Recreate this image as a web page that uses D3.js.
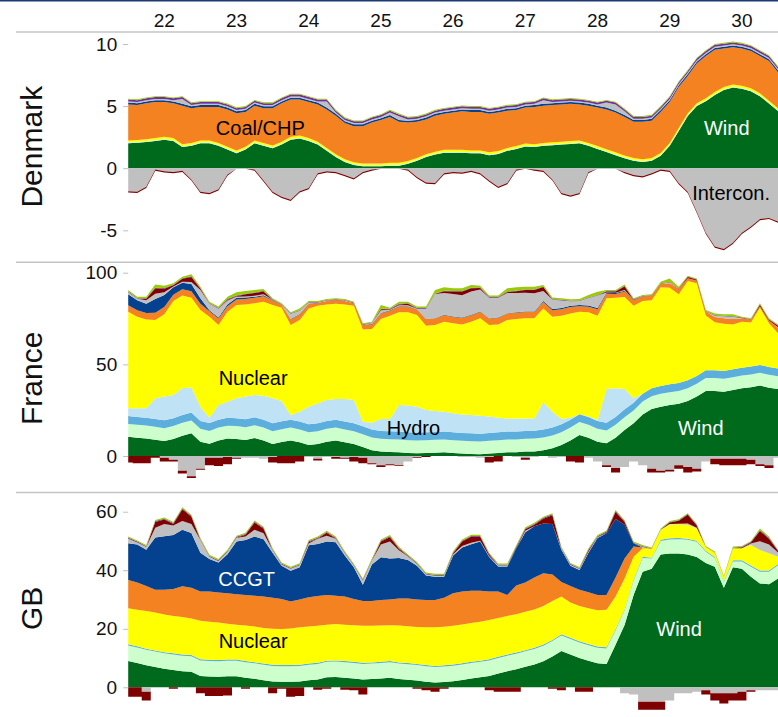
<!DOCTYPE html>
<html>
<head>
<meta charset="utf-8">
<script src="https://cdn.jsdelivr.net/npm/d3@7"></script>
<style>
  body { margin: 0; background: #fff; }
  svg { display: block; font-family: "Liberation Sans", Arial, sans-serif; }
</style>
</head>
<body>
<svg id="chart" width="778" height="717"></svg>
<script>
// 3-hourly values (GW), 22nd 00:00 to 31st 00:00, 73 points per series
const startDay = 22;
const stepHours = 3;
const days = [22, 23, 24, 25, 26, 27, 28, 29, 30];

// ---- Denmark ----
const dkWind = [2.0,2.05,2.1,2.2,2.3,2.2,1.7,1.8,2.0,2.0, 1.8,1.5,1.2,1.5,2.0,1.8,1.6,1.9,2.3,2.4,
  2.2,1.9,1.4,0.9,0.5,0.25,0.15,0.15,0.15,0.2, 0.2,0.35,0.6,0.9,1.1,1.25,1.25,1.25,1.2,1.2,
  1.05,1.15,1.4,1.55,1.75,1.7,1.8,1.85,1.9,1.95, 2.0,1.8,1.55,1.3,1.05,0.8,0.6,0.5,0.6,1.0,
  1.8,3.0,4.2,5.0,5.4,5.9,6.3,6.5,6.4,6.2, 5.8,5.2,4.6];
const dkSolar = [0.08,0.08,0.08,0.08,0.08,0.08,0.08,0.08,0.08,0.08, 0.08,0.08,0.08,0.08,0.08,0.08,0.08,0.08,0.08,0.08,
  0.08,0.08,0.08,0.08,0.08,0.08,0.08,0.08,0.08,0.08, 0.08,0.08,0.08,0.08,0.08,0.08,0.08,0.08,0.08,0.08,
  0.08,0.08,0.08,0.08,0.08,0.08,0.08,0.08,0.08,0.08, 0.08,0.08,0.08,0.08,0.08,0.08,0.08,0.08,0.08,0.08,
  0.08,0.08,0.08,0.08,0.08,0.08,0.08,0.08,0.08,0.08, 0.08,0.08,0.08];
const dkWaste = [0.15,0.15,0.15,0.15,0.15,0.15,0.15,0.15,0.15,0.15, 0.15,0.15,0.15,0.15,0.15,0.15,0.15,0.15,0.15,0.15,
  0.15,0.15,0.15,0.15,0.15,0.15,0.15,0.15,0.15,0.15, 0.15,0.15,0.15,0.15,0.15,0.15,0.15,0.15,0.15,0.15,
  0.15,0.15,0.15,0.15,0.15,0.15,0.15,0.15,0.15,0.15, 0.15,0.15,0.15,0.15,0.15,0.15,0.15,0.15,0.15,0.15,
  0.15,0.15,0.15,0.15,0.15,0.15,0.15,0.15,0.15,0.15, 0.15,0.15,0.15];
const dkCoal = [2.9,2.8,2.9,2.9,2.8,2.8,3.1,2.8,2.7,2.7, 2.9,3.0,3.0,2.8,2.8,2.8,3.0,3.1,3.0,2.9,
  2.9,3.0,3.1,3.1,2.9,2.9,3.0,3.3,3.5,3.7, 3.3,3.1,2.9,2.8,2.9,2.9,3.0,3.1,3.1,3.1,
  3.1,3.1,3.0,2.9,2.9,3.0,3.0,3.0,3.0,3.0, 2.9,3.0,3.1,3.2,3.2,3.1,2.9,3.0,3.0,3.3,
  3.3,3.3,3.0,3.2,3.4,3.4,3.1,3.0,3.0,3.0, 3.0,3.2,2.9];
const dkCcgt = [0.15,0.15,0.15,0.15,0.15,0.15,0.15,0.15,0.15,0.15, 0.15,0.15,0.15,0.15,0.15,0.15,0.15,0.15,0.15,0.15,
  0.15,0.15,0.15,0.15,0.15,0.15,0.15,0.15,0.15,0.15, 0.15,0.15,0.15,0.15,0.15,0.15,0.15,0.15,0.15,0.15,
  0.15,0.15,0.15,0.15,0.15,0.15,0.15,0.15,0.15,0.15, 0.15,0.15,0.15,0.15,0.15,0.15,0.15,0.15,0.15,0.15,
  0.15,0.15,0.15,0.15,0.15,0.15,0.15,0.15,0.15,0.15, 0.15,0.15,0.15];
const dkOther = [0.1,0.1,0.1,0.1,0.1,0.1,0.4,0.1,0.1,0.1, 0.1,0.1,0.1,0.1,0.1,0.1,0.1,0.1,0.1,0.1,
  0.1,0.1,0.5,0.1,0.1,0.1,0.1,0.1,0.1,0.2, 0.3,0.1,0.1,0.1,0.1,0.1,0.1,0.1,0.1,0.1,
  0.1,0.1,0.1,0.1,0.1,0.1,0.3,0.1,0.1,0.1, 0.1,0.1,0.1,0.4,0.5,0.3,0.1,0.1,0.1,0.1,
  0.1,0.1,0.1,0.1,0.1,0.1,0.1,0.1,0.1,0.1, 0.1,0.1,0.1];
const dkOil = [0.15,0.15,0.15,0.15,0.15,0.15,0.15,0.15,0.15,0.15, 0.15,0.15,0.15,0.15,0.15,0.15,0.15,0.15,0.15,0.15,
  0.15,0.15,0.15,0.15,0.15,0.15,0.15,0.15,0.15,0.15, 0.15,0.15,0.15,0.15,0.15,0.15,0.15,0.15,0.15,0.15,
  0.15,0.15,0.15,0.15,0.15,0.15,0.15,0.15,0.15,0.15, 0.15,0.15,0.15,0.15,0.15,0.15,0.15,0.15,0.15,0.15,
  0.15,0.15,0.15,0.15,0.15,0.15,0.15,0.15,0.15,0.15, 0.15,0.15,0.15];
const dkBio = [0.07,0.07,0.07,0.07,0.07,0.07,0.07,0.07,0.07,0.07, 0.07,0.07,0.07,0.07,0.07,0.07,0.07,0.07,0.07,0.07,
  0.07,0.07,0.07,0.07,0.07,0.07,0.07,0.07,0.07,0.07, 0.07,0.07,0.07,0.07,0.07,0.07,0.07,0.07,0.07,0.07,
  0.07,0.07,0.07,0.07,0.07,0.07,0.07,0.07,0.07,0.07, 0.07,0.07,0.07,0.07,0.07,0.07,0.07,0.07,0.07,0.07,
  0.07,0.07,0.07,0.07,0.07,0.07,0.07,0.07,0.07,0.07, 0.07,0.07,0.07];
const dkIntercon = [-1.85,-1.9,-1.5,-0.1,-0.25,-0.3,-0.2,-0.9,-1.9,-2.0, -1.7,-0.5,-0.05,-0.05,-0.1,-1.0,-1.9,-2.3,-2.55,-1.85,
  -1.6,-0.4,-0.25,-0.3,-0.55,-0.8,-0.3,-0.1,-0.05,-0.05, -0.05,-0.1,-0.7,-1.15,-1.2,-0.4,-0.3,-0.35,-0.2,-0.4,
  -1.0,-1.5,-1.2,-0.1,-0.05,-0.1,-0.2,-0.9,-2.0,-2.2, -2.0,-0.3,-0.05,-0.05,-0.05,-0.3,-0.55,-0.65,-0.4,-0.1,
  -0.2,-1.2,-1.9,-3.5,-5.2,-6.3,-6.5,-6.0,-5.2,-4.7, -4.1,-4.0,-4.3];
const dkPumpNeg = [-0.1,-0.1,-0.1,-0.1,-0.1,-0.1,-0.1,-0.1,-0.1,-0.1, -0.1,-0.1,0,0,-0.1,-0.1,-0.1,-0.1,-0.1,-0.1,
  -0.1,-0.1,-0.1,-0.1,-0.1,-0.1,-0.1,-0.1,0,0, 0,-0.1,-0.1,-0.1,-0.1,-0.1,-0.1,-0.1,-0.1,-0.1,
  -0.1,-0.1,-0.1,-0.1,0,-0.1,-0.1,-0.1,-0.1,-0.1, -0.1,-0.1,0,0,0,-0.1,-0.1,-0.1,-0.1,-0.1,
  -0.1,-0.1,-0.1,-0.1,-0.1,-0.1,-0.1,-0.1,-0.1,-0.1, -0.1,-0.1,-0.1];

// ---- France ----
const frWind = [10.5,10.0,9.6,8.9,8.2,9.3,11.1,12.4,7.8,6.7, 8.5,9.5,9.3,8.7,9.8,8.5,6.5,7.6,8.5,7.5,
  6.0,6.5,7.8,8.5,7.5,6.5,4.9,3.1,2.4,2.2, 2.0,1.6,1.5,1.6,1.8,2.0,1.6,1.3,1.1,0.9,
  1.3,1.6,2.0,2.0,2.4,2.5,3.1,4.2,6.0,8.5, 11.5,10.0,7.8,6.9,10.0,14.2,17.8,22.7,25.6,26.9,
  27.8,28.5,30.0,32.4,35.5,35.5,35.1,36.0,36.9,37.5, 38.4,37.3,36.5];
const frSolar = [7.0,7.0,7.0,7.0,7.0,7.0,7.0,7.0,7.0,7.0, 7.0,7.0,7.0,7.0,7.0,7.0,7.0,7.0,7.0,7.0,
  7.0,7.0,7.0,7.0,7.0,7.0,7.0,7.0,7.0,7.0, 7.0,7.0,7.0,7.0,7.0,7.0,7.0,7.0,7.0,7.0,
  7.0,7.0,7.0,7.0,7.0,7.0,7.0,7.0,7.0,7.0, 7.0,7.0,7.0,7.0,7.0,7.0,7.0,7.0,7.0,7.0,
  7.0,7.0,7.0,7.0,7.0,7.0,7.0,7.0,7.0,7.0, 7.0,7.0,7.0];
const frHydro = [4.3,4.3,4.3,4.3,4.3,4.3,4.3,4.3,4.3,4.3, 4.3,4.3,4.3,4.3,4.3,4.3,4.3,4.3,4.3,4.3,
  4.3,4.3,4.3,4.3,4.3,4.3,4.3,4.3,4.3,4.3, 4.3,4.3,4.3,4.3,4.3,4.3,4.3,4.3,4.3,4.3,
  4.3,4.3,4.3,4.3,4.3,4.3,4.3,4.3,4.3,4.3, 4.3,4.3,4.3,4.3,4.3,4.3,4.3,4.3,4.3,4.3,
  4.3,4.3,4.3,4.3,4.3,4.3,4.3,4.3,4.3,4.3, 4.3,4.3,4.3];
const frHydroRes = [4.2,4.7,5.1,11.3,12.9,12.7,14.5,13.8,7.8,2.9, 8.0,8.8,10.9,12.4,12.2,13.1,13.7,11.1,2.6,5.4,
  9.6,10.9,11.4,11.3,12.3,12.7,2.5,3.8,6.5,6.7, 14.5,14.6,14.1,12.2,11.4,10.9,10.4,10.1,10.0,9.8,
  8.9,8.0,7.2,7.2,6.8,6.7,14.9,8.7,2.9,1.0, 0,0.2,0.5,18.3,15.6,11.0,2.4,0,0,0,
  0,0,0,0,0,0,0,0,0,0, 0,0,0];
const frNuclear = [52.7,50.0,48.5,42.7,44.9,51.2,50.6,48.9,52.7,55.1, 43.7,49.1,50.9,50.3,50.0,51.3,50.9,50.9,49.1,50.0,
  53.6,53.3,52.2,52.0,51.6,51.5,50.3,51.1,54.5,56.3, 50.6,50.9,50.0,46.0,47.0,49.1,49.1,49.1,50.9,53.1,
  50.0,50.9,53.7,54.2,54.6,54.6,51.2,51.8,56.3,57.0, 55.9,56.9,56.9,49.5,49.5,50.2,50.5,50.5,48.1,53.8,
  52.7,48.4,54.2,50.5,29.8,26.1,25.8,24.5,25.1,24.0, 31.2,23.8,19.1];
const frCoal = [3.5,3.5,3.5,4.0,4.0,3.5,3.5,3.5,3.5,3.0, 3.5,3.0,3.0,3.0,3.0,3.0,2.5,1.6,3.0,3.0,
  2.5,1.5,1.8,1.7,1.8,1.3,2.5,2.5,3.0,2.8, 3.0,3.0,3.0,3.5,3.5,3.5,3.5,3.5,3.5,3.5,
  3.5,3.5,3.5,3.5,3.5,3.5,3.5,3.5,3.5,3.5, 3.0,3.0,3.5,2.5,2.0,3.0,3.0,2.5,2.4,2.0,
  2.5,3.0,1.5,1.5,2.2,3.0,3.0,3.0,1.9,1.5, 0.8,1.5,3.0];
const frCcgt = [6.0,5.5,5.0,7.5,6.5,4.0,3.5,4.0,3.0,0.5, 0.5,1.0,1.0,0.8,0.6,0.5,0.2,0,0.3,0.3,
  0.2,0.1,0.1,0.1,0.1,0.1,0.1,0.2,0.3,0.2, 0.3,0.3,0.2,0.2,0.2,0.2,0.2,0.2,0.2,0.2,
  0.2,0.2,0.2,0.2,0.2,0.2,0.5,0.7,0.7,0.7, 0.7,0.7,0.7,0.5,0.5,0.5,0.2,0,0,0,
  0,0,0,0,0,0,0,0,0,0, 0,0,0];
const frOther = [1.2,0.8,2.0,2.8,1.5,0.5,0.5,1.0,4.5,3.6, 4.9,2.1,0.5,0.5,0.5,0.5,0.1,0,2.8,1.7,
  0.5,0.1,0.2,0.1,0.2,0,0,0.5,1.5,0.3, 0.5,0.6,0.3,5.6,13.2,11.9,12.3,12.2,12.8,12.0,
  11.2,10.9,11.0,10.5,10.3,10.0,5.5,5.2,4.2,2.4, 2.1,4.1,6.8,0.2,0.1,0.3,0,0,0,0,
  0.3,0,0,0,0,0.6,1.0,1.2,0,0, 0,0,0.3];
const frPumped = [0,0,0.8,3.0,2.0,0.6,1.7,2.8,0.7,0, 0,0.5,0.3,1.2,1.5,1.6,0,0,0,0,
  0,0,0,0.2,0,0,0,0,0.6,0.3, 0.5,0.8,0,0,0,1.0,1.3,2.0,1.7,0.8,
  0,0,0.5,1.0,1.5,1.8,2.2,0,0,0, 0,0,0,0.5,0.7,2.0,0,0,0,0,
  0,0,0.6,0.4,0,0,0,0,0,0, 0.8,0.4,0.8];
const frOil = [0.3,0.3,0.3,0.3,0.3,0.3,0.3,0.3,0.3,0.3, 0.3,0.3,0.3,0.3,0.3,0.3,0.3,0.3,0.3,0.3,
  0.3,0.3,0.3,0.3,0.3,0.3,0.3,0.3,0.3,0.3, 0.3,0.3,0.3,0.3,0.3,0.3,0.3,0.3,0.3,0.3,
  0.3,0.3,0.3,0.3,0.3,0.3,0.3,0.3,0.3,0.3, 0.3,0.3,0.3,0.3,0.3,0.3,0.3,0.3,0.3,0.3,
  0.3,0.3,0.3,0.3,0.3,0.3,0.3,0.3,0.3,0.3, 0.3,0.3,0.3];
const frBio = [0.8,0.8,0.8,1.8,1.3,0.8,0.8,1.1,0.8,0.8, 0.8,1.3,1.8,1.5,1.3,1.0,0.5,0.5,0.5,1.0,
  0.5,0.5,0.5,0.5,0.5,0.5,0.5,0.5,2.0,0.5, 1.2,0.8,0.8,0.8,1.8,1.8,1.5,1.5,1.5,1.0,
  0.8,0.8,1.8,1.8,1.5,1.5,0.8,0.8,0.8,0.8, 0.8,1.3,1.8,0.5,0.5,0.8,0.5,0.5,0.5,0.8,
  2.0,0.9,0.5,0.5,0.5,1.0,0.8,1.0,0.5,0.5, 0.5,0.5,0.5];
const frIntercon = [0,0,0,0,-1.0,-2.0,-8.0,-11.0,-7.0,-1.0, -1.0,-0.5,-1.0,-1.0,-1.0,-1.5,-0.5,0,0,0,
  -0.5,-1.5,-0.5,-0.5,-1.0,-0.5,-1.0,-4.0,-5.0,-4.5, -5.0,-3.0,-0.5,0,0,0,0,-0.5,-0.5,-1.0,
  -0.5,0,0,-0.5,-1.0,-0.5,0,-1.0,-0.5,0, 0,-1.0,-3.0,-5.0,-6.5,-6.0,-3.0,-5.0,-7.0,-8.0,
  -7.5,-5.0,-6.0,-7.0,-3.0,-1.5,-1.5,-1.5,-1.5,-2.0, -4.5,-5.0,-1.0];
const frPumpNeg = [-3.5,-4.0,-4.0,-1.0,-2.0,-1.0,-1.5,-1.0,-0.5,-4.0, -4.5,-4.0,-0.5,0,0,0,-3.0,-4.0,-4.0,-3.0,
  0,-1.0,0,-1.0,-0.5,-2.5,-3.0,-0.5,-1.0,-0.5, -0.5,0,-0.5,-0.5,0,0,0,0,0,0,
  -3.0,-3.0,0,0,-1.0,0,0,0,0,-3.0, -3.5,0,0,-1.0,-2.5,0,0,0,-2.0,-1.0,
  -1.0,-2.0,-3.0,-1.5,0,-3.0,-3.5,-3.5,-3.5,-2.5, -1.0,-1.5,0];

// ---- GB ----
const gbWind = [9.0,8.3,7.5,6.9,6.3,5.9,5.5,5.3,3.9,3.7, 3.6,3.8,3.8,3.3,2.9,2.4,2.0,1.9,1.9,2.0,
  2.4,2.7,3.4,3.5,3.3,3.0,2.7,2.8,3.0,3.3, 2.8,2.6,2.3,1.9,1.6,1.8,2.1,2.5,3.0,3.4,
  3.9,4.7,5.5,6.2,7.0,7.8,8.9,10.5,12.4,11.2, 10.0,9.1,8.2,8.0,14.5,21.3,31.5,39.5,40.5,45.4,
  45.7,45.7,45.4,44.5,42.5,41.2,34.0,41.0,40.5,37.8, 35.5,35.2,37.2];
const gbSolar = [5.3,5.3,5.3,5.3,5.3,5.3,5.3,5.3,5.3,5.3, 5.3,5.3,5.3,5.3,5.3,5.3,5.3,5.3,5.3,5.3,
  5.3,5.3,5.3,5.3,5.3,5.3,5.3,5.3,5.3,5.3, 5.3,5.3,5.3,5.3,5.3,5.3,5.3,5.3,5.3,5.3,
  5.3,5.3,5.3,5.3,5.3,5.3,5.3,5.3,5.3,5.3, 5.3,5.3,5.3,5.3,5.0,5.0,5.0,4.7,3.5,4.6,
  4.8,4.9,5.0,5.2,3.8,3.0,2.0,2.0,2.5,3.4, 4.0,4.3,4.5];
const gbHydro = [0.4,0.4,0.4,0.4,0.4,0.4,0.4,0.4,0.4,0.4, 0.4,0.4,0.4,0.4,0.4,0.4,0.4,0.4,0.4,0.4,
  0.4,0.4,0.4,0.4,0.4,0.4,0.4,0.4,0.4,0.4, 0.4,0.4,0.4,0.4,0.4,0.4,0.4,0.4,0.4,0.4,
  0.4,0.4,0.4,0.4,0.4,0.4,0.4,0.4,0.4,0.4, 0.4,0.4,0.4,0.4,0.4,0.4,0.4,0.4,0.3,0.4,
  0.4,0.4,0.4,0.4,0.4,0.3,0.3,0.4,0.4,0.4, 0.4,0.4,0.4];
const gbNuclear = [12.3,12.5,12.9,13.0,12.9,12.8,12.8,12.5,13.1,13.0, 12.8,12.2,11.9,12.1,12.2,12.2,12.3,12.3,12.5,12.8,
  12.7,12.6,12.3,12.4,12.4,12.5,12.6,12.5,12.4,12.2, 12.6,12.6,12.6,12.9,13.2,13.2,13.2,13.3,13.3,13.3,
  13.4,13.3,13.2,13.1,13.1,13.1,13.2,13.3,12.9,12.1, 12.1,12.2,12.4,12.8,11.1,10.5,7.7,2.9,3.0,3.4,
  4.7,4.7,4.7,4.2,1.2,1.5,1.5,4.1,4.1,7.0, 7.0,5.9,2.5];
const gbCoal = [9.7,9.3,8.5,7.7,8.4,9.2,10.5,10.5,10.0,10.3, 10.3,10.4,10.4,10.4,10.5,10.7,10.6,10.3,9.2,9.5,
  10.0,10.2,10.1,9.7,9.6,9.0,8.5,8.5,8.7,8.8, 9.2,9.4,9.4,9.3,9.3,9.9,11.1,11.2,11.0,10.6,
  9.7,9.0,7.1,9.8,10.0,10.9,11.2,9.0,5.0,5.6, 5.5,5.5,5.2,5.0,6.5,6.8,3.5,0.3,0,0,
  0,0,0,0,0,0,0,0,0,0, 0,0,0];
const gbCcgt = [12.5,13.0,12.4,17.9,18.3,18.4,19.3,18.7,13.3,11.1, 10.2,13.4,18.0,18.8,20.2,19.6,15.4,11.3,10.5,11.0,
  17.7,17.8,18.3,18.3,14.0,10.8,5.5,12.5,14.6,14.0, 13.9,13.2,11.5,8.4,8.0,7.2,12.9,15.1,15.9,16.8,
  11.8,8.6,9.8,12.7,17.2,17.5,17.0,17.3,11.0,6.9, 6.8,13.5,19.5,21.1,20.0,11.5,1.1,0,0,0,
  0,0,0,0,0,0,0,0,0,0, 0,0,0];
const gbOther = [1.6,0.7,0.9,3.3,4.2,3.3,3.0,3.1,4.3,0.8, 0.5,0.8,1.3,1.2,2.3,2.0,0.8,0.4,0.7,0.7,
  0.6,1.8,2.0,1.2,0.8,0.5,1.5,1.3,4.4,5.8, 2.6,1.2,0.6,0.3,0.3,0.3,0.5,0.5,0.5,0.3,
  0.3,0.3,0.3,0,0.5,0,0,0,0.3,0.3, 0.3,0.3,0.3,0,0,0,0,0.1,0,0,
  0.2,0.2,0.5,0.2,0,0,0,0,0,0.5, 3.0,3.0,1.5];
const gbPumped = [0,0,0,2.0,1.5,0.5,4.0,2.5,0,0, 0,0,0,0.6,2.5,1.6,0,0,0,0,
  0.5,0,1.0,0,0,0,0,0,1.0,1.5, 0.5,0,0,0,0,0,0.3,1.5,2.0,1.3,
  0.5,0,0,0.3,0.5,0.5,1.6,3.0,0,0, 0,0.5,0,0.3,2.4,1.0,0,0,0,0,
  0.5,1.0,3.0,0.8,0,0,0,0,0.3,0.4, 3.5,2.0,0.5];
const gbOil = [0.3,0.3,0.3,0.3,0.3,0.3,0.3,0.3,0.3,0.3, 0.3,0.3,0.3,0.3,0.3,0.3,0.3,0.3,0.3,0.3,
  0.3,0.3,0.3,0.3,0.3,0.3,0.3,0.3,0.3,0.3, 0.3,0.3,0.3,0.3,0.3,0.3,0.3,0.3,0.3,0.3,
  0.3,0.3,0.3,0.3,0.3,0.3,0.3,0.3,0.3,0.3, 0.3,0.3,0.3,0.3,0.3,0.3,0.2,0.3,0.2,0.2,
  0.2,0.2,0.2,0.2,0.1,0.1,0.1,0.2,0.2,0.2, 0.3,0.3,0.2];
const gbBio = [0.4,0.4,0.4,0.4,0.4,0.4,0.4,0.4,0.4,0.4, 0.4,0.4,0.4,0.4,0.4,0.4,0.4,0.4,0.4,0.4,
  0.4,0.4,0.4,0.4,0.4,0.4,0.4,0.4,0.4,0.4, 0.4,0.4,0.4,0.4,0.4,0.4,0.4,0.4,0.4,0.4,
  0.4,0.4,0.4,0.4,0.4,0.4,0.4,0.4,0.4,0.4, 0.4,0.4,0.4,0.4,0.4,0.4,0.4,0.4,0.3,0.3,
  0.3,0.3,0.3,0.3,0.3,0.3,0.2,0.4,0.3,0.3, 0.6,0.4,0.1];
const gbIntercon = [0,0,-1.5,0,0,0,0,0,0,0, 0,0,0,0,0,0,0,0,0,0,
  0,0,0,0,0,0,0,0,0,0, 0,0,0,0,0,0,0,0,0,0,
  0,0,0,0,0,0,0,0,0,0, 0,0,0,0,0,-2.0,-2.5,-4.9,-4.9,-4.9,
  -4.5,-2.0,-2.0,-1.5,-1.0,-2.0,-2.0,-2.0,-1.5,-1.0, -1.0,-1.0,-1.0];
const gbPumpNeg = [-3.2,-3.2,-3.0,0,0,-0.5,0,0,-2.0,-3.0, -3.0,-2.8,0,-0.5,0,0,-2.0,-0.5,-3.2,-3.0,
  0,-0.8,-0.5,0,-0.8,-1.0,-2.5,0,0,0, 0,0,-0.5,-1.0,-1.5,-0.5,0,0,0,0,
  -1.0,-1.5,-1.5,-1.5,0,0,0,-0.5,-1.0,0, -1.5,-1.5,0,0,0,0,0,-2.8,-2.8,-2.8,
  0,0,0,0,-1.5,-2.5,-3.5,-2.5,-3.0,-0.5, 0,0,0];

const colors = {
  wind: '#006a1c', solar: '#ccffcc', hydro: '#5caedc', hydroRes: '#bfe3f5',
  waste: '#ffff00', nuclear: '#ffff00', coal: '#f58220', ccgt: '#04418e',
  other: '#c0c0c0', pumped: '#7f0000', oil: '#7030a0', bio: '#99cc00',
  intercon: '#c0c0c0', pumpNeg: '#7f0000'
};
const negKeys = ['intercon', 'pumpNeg'];

const panels = [
  { name: 'Denmark', domain: [-5, 10], range: [230.3, 44.0], ticks: [-5, 0, 5, 10], labelY: 146.7, negCurve: d3.curveLinear,
    series: { wind: dkWind, solar: dkSolar, waste: dkWaste, coal: dkCoal, ccgt: dkCcgt, other: dkOther,
              oil: dkOil, bio: dkBio, intercon: dkIntercon, pumpNeg: dkPumpNeg },
    notes: [ { text: 'Coal/CHP', day: 23.83, value: 3.2, fill: '#000' },
             { text: 'Wind', day: 30.29, value: 3.2, fill: '#fff' },
             { text: 'Intercon.', day: 30.35, value: -2.0, fill: '#000' } ] },
  { name: 'France', domain: [0, 100], range: [456.0, 272.7], ticks: [0, 50, 100], labelY: 378.3, negCurve: d3.curveStep,
    series: { wind: frWind, solar: frSolar, hydro: frHydro, hydroRes: frHydroRes, nuclear: frNuclear,
              coal: frCoal, ccgt: frCcgt, other: frOther, pumped: frPumped, oil: frOil, bio: frBio,
              intercon: frIntercon, pumpNeg: frPumpNeg },
    notes: [ { text: 'Nuclear', day: 23.73, value: 42.5, fill: '#000' },
             { text: 'Hydro', day: 25.95, value: 15.3, fill: '#000' },
             { text: 'Wind', day: 29.93, value: 15.3, fill: '#fff' } ] },
  { name: 'GB', domain: [0, 60], range: [687.3, 511.7], ticks: [0, 20, 40, 60], labelY: 608.3, negCurve: d3.curveStep,
    series: { wind: gbWind, solar: gbSolar, hydro: gbHydro, nuclear: gbNuclear, coal: gbCoal, ccgt: gbCcgt,
              other: gbOther, pumped: gbPumped, oil: gbOil, bio: gbBio, intercon: gbIntercon, pumpNeg: gbPumpNeg },
    notes: [ { text: 'CCGT', day: 23.64, value: 37.0, fill: '#fff' },
             { text: 'Nuclear', day: 23.73, value: 15.8, fill: '#000' },
             { text: 'Wind', day: 29.63, value: 19.9, fill: '#fff' } ] }
];

const svg = d3.select('#chart');
const x = d3.scaleLinear().domain([22, 31]).range([128.2, 778]);

// frame lines
svg.append('rect').attr('x', 0).attr('y', 0).attr('width', 778).attr('height', 1.5).attr('fill', '#1c3a6e');
[32, 262.3, 492.5].forEach((yy) => {
  svg.append('line').attr('x1', 16).attr('x2', 778).attr('y1', yy).attr('y2', yy)
    .attr('stroke', '#c4c4c4').attr('stroke-width', 1.6);
});

// day labels along the top
svg.append('g').selectAll('text').data(days).join('text')
  .attr('x', (d) => x(d + 0.5)).attr('y', 27)
  .attr('text-anchor', 'middle').attr('font-size', 19).attr('fill', '#111')
  .text((d) => d);

panels.forEach((p) => {
  const y = d3.scaleLinear().domain(p.domain).range(p.range);
  const keys = Object.keys(p.series);
  const rows = p.series[keys[0]].map((_, i) => {
    const r = { t: startDay + (i * stepHours) / 24 };
    keys.forEach((k) => { r[k] = p.series[k][i]; });
    return r;
  });
  // positives stack upward from 0, negatives (all <= 0) stack downward from 0
  const posLayers = d3.stack().keys(keys.filter((k) => !negKeys.includes(k)))(rows);
  const negLayers = d3.stack().keys(keys.filter((k) => negKeys.includes(k)))(rows);

  const areaPos = d3.area().x((d) => x(d.data.t)).y0((d) => y(d[0])).y1((d) => y(d[1]));
  const areaNeg = d3.area().curve(p.negCurve).x((d) => x(d.data.t)).y0((d) => y(d[0])).y1((d) => y(d[1]));

  const g = svg.append('g');
  g.append('g').selectAll('path').data(posLayers).join('path')
    .attr('d', areaPos).attr('fill', (s) => colors[s.key]);
  g.append('g').selectAll('path').data(negLayers).join('path')
    .attr('d', areaNeg).attr('fill', (s) => colors[s.key]);

  // y axis
  const ax = svg.append('g').attr('transform', `translate(${x.range()[0]},0)`)
    .call(d3.axisLeft(y).tickValues(p.ticks).tickSize(5).tickPadding(6).tickFormat((d) => String(d)));
  ax.select('.domain').remove();
  ax.selectAll('line').attr('stroke', '#bdbdbd');
  ax.selectAll('text').attr('font-size', 19).attr('fill', '#111')
    .attr('font-family', '"Liberation Sans", Arial, sans-serif');

  // panel title
  svg.append('text').attr('transform', `translate(42,${p.labelY}) rotate(-90)`)
    .attr('text-anchor', 'middle').attr('font-size', 30).attr('fill', '#111').text(p.name);

  // in-chart labels
  g.selectAll('text.note').data(p.notes).join('text').attr('class', 'note')
    .attr('x', (d) => x(d.day)).attr('y', (d) => y(d.value))
    .attr('dy', '0.35em').attr('text-anchor', 'middle')
    .attr('font-size', 20).attr('fill', (d) => d.fill).text((d) => d.text);
});
</script>
</body>
</html>
